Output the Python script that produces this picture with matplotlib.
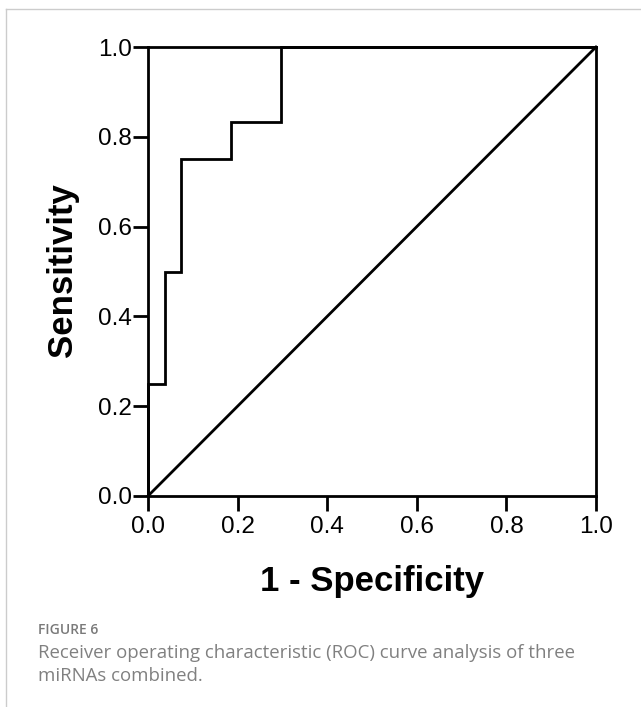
import matplotlib
matplotlib.use("Agg")
import matplotlib.pyplot as plt
from matplotlib.lines import Line2D

# ROC curve (1 - specificity, sensitivity)
fpr = [0.0, 0.0, 0.037, 0.037, 0.074, 0.074, 0.185, 0.185, 0.296, 0.296, 1.0]
tpr = [0.0, 0.25, 0.25, 0.5, 0.5, 0.75, 0.75, 0.833, 0.833, 1.0, 1.0]
ticks = [0.0, 0.2, 0.4, 0.6, 0.8, 1.0]
tick_labels = ["0.0", "0.2", "0.4", "0.6", "0.8", "1.0"]

W, H = 641, 707
fig = plt.figure(figsize=(W / 100, H / 100), dpi=100)
ax = fig.add_axes([148 / W, 1 - 496 / H, 448 / W, 449 / H])

lw = 2.0
ax.plot(fpr, tpr, color="black", lw=lw, solid_joinstyle="miter", clip_on=False)
ax.plot([0, 1], [0, 1], color="black", lw=lw, clip_on=False)

ax.set_xlim(0, 1)
ax.set_ylim(0, 1)
ax.set_xticks(ticks)
ax.set_yticks(ticks)
ax.set_xticklabels(tick_labels, family="Liberation Sans", fontsize=17.5)
ax.set_yticklabels(tick_labels, family="Liberation Sans", fontsize=17.5)
ax.tick_params(direction="out", length=10.5, width=lw, color="black")
ax.tick_params(axis="x", pad=4)
ax.tick_params(axis="y", pad=1)
for s in ax.spines.values():
    s.set_linewidth(lw)

fig.text(372 / W, 1 - 582 / H, "1 - Specificity", family="Liberation Sans",
         fontsize=25, fontweight="bold", ha="center", va="center")
fig.text(62 / W, 1 - 270 / H, "Sensitivity", family="Liberation Sans",
         fontsize=25, fontweight="bold", rotation=90, ha="center", va="center")

# page frame lines
fig.add_artist(Line2D([6 / W, 1], [1 - 9 / H, 1 - 9 / H], color="#cccccc", lw=1))
fig.add_artist(Line2D([6 / W, 6 / W], [0, 1 - 9 / H], color="#cccccc", lw=1))

fig.text(38 / W, 1 - 634 / H, "FIGURE 6", family="Open Sans", fontsize=10,
         fontweight="semibold", color="#7a7a7a", va="baseline")
fig.text(38 / W, 1 - 658 / H,
         "Receiver operating characteristic (ROC) curve analysis of three",
         family="Open Sans", fontsize=13.4, color="#808080", va="baseline")
fig.text(38 / W, 1 - 681 / H, "miRNAs combined.",
         family="Open Sans", fontsize=13.4, color="#808080", va="baseline")

fig.savefig("out.png", dpi=100)
